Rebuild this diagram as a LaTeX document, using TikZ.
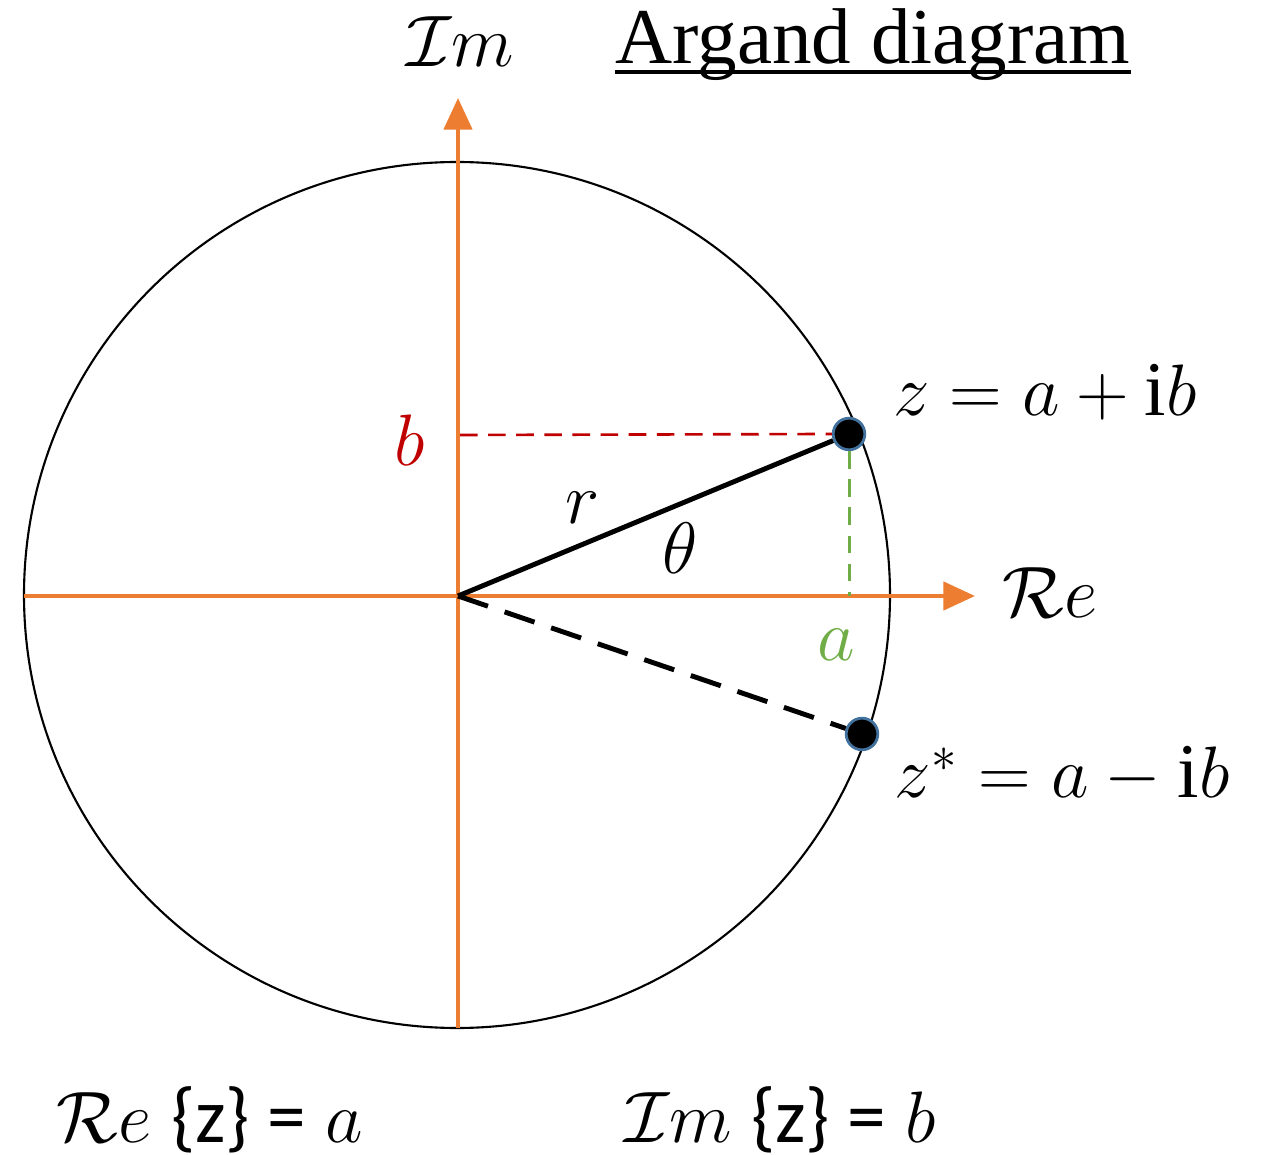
\documentclass[tikz,border=0pt]{standalone}
\usepackage{fontspec}
\setmainfont{Liberation Serif}
\newfontfamily\calib{Carlito}
\usetikzlibrary{arrows.meta}
\definecolor{axorange}{HTML}{ED7D31}
\definecolor{bred}{HTML}{C00000}
\definecolor{agreen}{HTML}{70AD47}
\definecolor{dotblue}{HTML}{41719C}
\begin{document}
\begin{tikzpicture}[x=1cm,y=1cm,
  axis/.style={draw=axorange,line width=1.2pt,-{Triangle[length=9pt,width=8pt]}},
  axisplain/.style={draw=axorange,line width=1.2pt},
  pt/.style={circle,fill=black,draw=dotblue,line width=0.8pt,minimum size=9pt,inner sep=0pt},
  lbl/.style={inner sep=0pt,font=\fontsize{22}{26}\selectfont}]
\useasboundingbox (0,0) rectangle (12.64,-11.55);
% circle
\node[circle,draw=black,line width=0.6pt,minimum size=8.66cm,inner sep=0pt] (circ) at (4.57,-5.95) {};
% coordinates
\coordinate (O) at (4.58,-5.96);
\coordinate (xl) at (0.24,-5.96);
\coordinate (xr) at (9.75,-5.96);
\coordinate (yb) at (4.58,-10.28);
\coordinate (yt) at (4.58,-0.98);
\coordinate (bb) at (4.60,-4.35);
\coordinate (aa) at (8.49,-5.96);
% axes
\draw[axisplain] (xl) -- (O);
\draw[axis] (O) -- (xr);
\draw[axisplain] (yb) -- (O);
\draw[axis] (O) -- (yt);
% points
\node[pt] (z) at (8.49,-4.34) {};
\node[pt] (zs) at (8.62,-7.34) {};
% dashed projections
\draw[bred,line width=0.75pt,dash pattern=on 5pt off 3pt] (bb) -- (z.west);
\draw[agreen,line width=0.85pt,dash pattern=on 5pt off 3pt] (z.south) -- (aa);
% radius lines
\draw[black,line width=1.4pt] (O) -- (z);
\draw[black,line width=1.4pt,dash pattern=on 9pt off 5pt] (O) -- (zs);
% labels
\node[lbl] (imtop) at (4.60,-0.42) {$\mathcal{I}m$};
\node[inner sep=0pt,anchor=base,font=\fontsize{22.5}{26}\selectfont] (title) at (8.73,-0.64) {Argand diagram};
\draw[line width=1.1pt] ([yshift=-2.2pt]title.base west) -- ([yshift=-2.2pt]title.base east);
\node[lbl,text=bred] (blbl) at (4.10,-4.40) {$b$};
\node[lbl] (rlbl) at (5.83,-5.08) {$r$};
\node[lbl] (thlbl) at (6.80,-5.48) {$\theta$};
\node[lbl] (relbl) at (10.50,-5.93) {$\mathcal{R}e$};
\node[lbl,text=agreen] (albl) at (8.36,-6.45) {$a$};
\node[lbl] (zlbl) at (10.45,-3.92) {$z = a + \mathrm{i}b$};
\node[lbl] (zslbl) at (10.62,-7.75) {$z^{*} = a - \mathrm{i}b$};
\node[lbl] (reeq) at (2.10,-11.20) {$\mathcal{R}e$ {\calib\{z\} =} $a$};
\node[lbl] (imeq) at (7.80,-11.20) {$\mathcal{I}m$ {\calib\{z\} =} $b$};
\end{tikzpicture}
\end{document}
